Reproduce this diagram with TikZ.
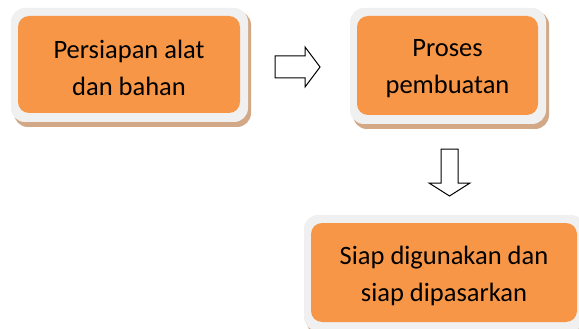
\documentclass[tikz,border=0pt]{standalone}
\usepackage{fontspec}
\setmainfont{Carlito}
\definecolor{boxorange}{RGB}{247,150,70}
\definecolor{boxrim}{RGB}{240,240,240}
\definecolor{boxshadow}{RGB}{210,168,134}
\tikzset{
  rimbox/.style={fill=boxrim, rounded corners=14pt},
  shadowbox/.style={fill=boxshadow, rounded corners=14pt},
  corebox/.style={fill=boxorange, rounded corners=11pt, inner sep=0pt},
  cardtext/.style={align=center, font=\fontsize{26.5}{37}\selectfont, inner sep=0pt},
  blockarrow/.style={draw=black, fill=white, line width=1pt, line join=miter}
}
\newcommand{\stepcard}[6]{%
  % #1 name, #2 left, #3 top, #4 right, #5 bottom (inner orange), #6 text
  \fill[shadowbox] (#2-4,#3-5) rectangle (#4+11,#5+14);
  \fill[rimbox] (#2-7,#3-8) rectangle (#4+8,#5+9);
  \node[corebox, minimum width=#4-#2, minimum height=#5-#3]
    (#1) at ({(#2+#4)/2},{(#3+#5)/2}) {};
  \node[cardtext] (#1-text) at ([yshift=-3pt]#1.center) {#6};
}
\begin{document}
\begin{tikzpicture}[x=1pt,y=-1pt]
\useasboundingbox (0,0) rectangle (579,329);
\fill[white] (0,0) rectangle (579,329);

\stepcard{prep}{18}{16}{240}{113}{Persiapan alat\\dan bahan}
\stepcard{make}{357}{16}{538}{115}{Proses\\pembuatan}
\stepcard{ready}{311}{223}{577}{322}{Siap digunakan dan\\siap dipasarkan}

% block arrow from the first card towards the second
\coordinate (r0) at (275,67);
\draw[blockarrow] (r0) ++(0,-11) -- ++(30,0) -- ++(0,-9) -- (320,67)
  -- (305,87) -- ++(0,-9) -- (275,78) -- cycle;

% block arrow from the second card down to the third
\coordinate (d0) at (449.5,149);
\draw[blockarrow] (d0) ++(-8.5,0) -- ++(17,0) -- ++(0,34) -- ++(12,0)
  -- (449.5,196) -- (429,183) -- ++(12,0) -- cycle;
\end{tikzpicture}
\end{document}
